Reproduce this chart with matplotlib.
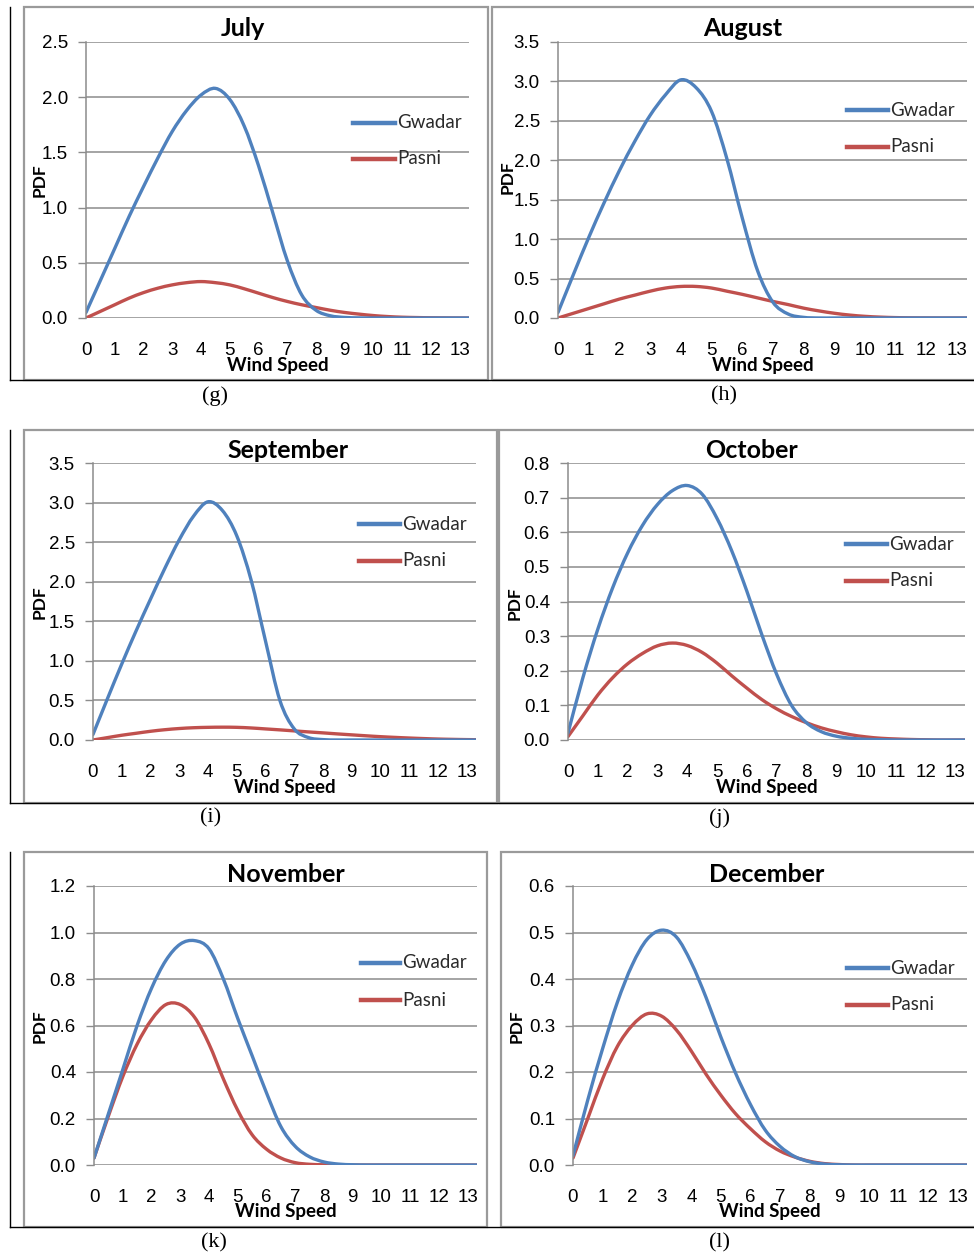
import matplotlib
matplotlib.use("Agg")
import matplotlib.pyplot as plt
import numpy as np
from matplotlib.lines import Line2D
from matplotlib.patches import Rectangle, PathPatch
from matplotlib.path import Path

# ---------------- data ----------------
wind_speed = [0, 0.5, 1, 1.5, 2, 2.5, 3, 3.5, 4, 4.5, 5, 5.5, 6, 6.5, 7, 7.5,
              8, 8.5, 9, 9.5, 10, 10.5, 11, 11.5, 12, 12.5, 13, 13.5]
x_ticks = list(range(0, 14))

july_gwadar = [0.05, 0.34, 0.63, 0.92, 1.19, 1.45, 1.69, 1.88, 2.02, 2.08, 1.98, 1.74, 1.38, 0.95,
               0.52, 0.21, 0.07, 0.02, 0.005, 0.001, 0, 0, 0, 0, 0, 0, 0, 0]
july_pasni = [0.0, 0.06, 0.12, 0.18, 0.23, 0.27, 0.30, 0.32, 0.33, 0.32, 0.30, 0.265, 0.225, 0.185,
              0.15, 0.12, 0.095, 0.07, 0.05, 0.035, 0.022, 0.013, 0.007, 0.004, 0.002, 0.001, 0, 0]

august_gwadar = [0.07, 0.55, 1.02, 1.46, 1.87, 2.24, 2.57, 2.83, 3.02, 2.92, 2.62, 2.02, 1.27, 0.60,
                 0.20, 0.05, 0.008, 0, 0, 0, 0, 0, 0, 0, 0, 0, 0, 0]
august_pasni = [0.0, 0.06, 0.12, 0.18, 0.24, 0.29, 0.34, 0.38, 0.40, 0.40, 0.38, 0.34, 0.30, 0.255,
                0.21, 0.17, 0.125, 0.09, 0.06, 0.037, 0.021, 0.011, 0.005, 0.002, 0.001, 0, 0, 0]

september_gwadar = [0.07, 0.52, 0.96, 1.38, 1.78, 2.17, 2.53, 2.83, 3.01, 2.90, 2.58, 2.02, 1.25, 0.50,
                    0.14, 0.03, 0.005, 0, 0, 0, 0, 0, 0, 0, 0, 0, 0, 0]
september_pasni = [0.0, 0.03, 0.06, 0.085, 0.11, 0.13, 0.145, 0.155, 0.16, 0.162, 0.16, 0.152, 0.14, 0.128,
                   0.115, 0.102, 0.09, 0.077, 0.065, 0.053, 0.042, 0.033, 0.025, 0.018, 0.012, 0.008, 0.005, 0.003]

october_gwadar = [0.02, 0.18, 0.32, 0.44, 0.54, 0.62, 0.68, 0.72, 0.735, 0.71, 0.64, 0.545, 0.43, 0.305,
                  0.19, 0.10, 0.05, 0.024, 0.011, 0.005, 0.002, 0.001, 0, 0, 0, 0, 0, 0]
october_pasni = [0.01, 0.07, 0.13, 0.18, 0.22, 0.25, 0.272, 0.28, 0.273, 0.253, 0.222, 0.185, 0.15, 0.117,
                 0.09, 0.068, 0.05, 0.035, 0.024, 0.015, 0.009, 0.005, 0.003, 0.0015, 0.0007, 0, 0, 0]

november_gwadar = [0.03, 0.22, 0.41, 0.60, 0.76, 0.88, 0.95, 0.965, 0.93, 0.80, 0.63, 0.47, 0.31, 0.165,
                   0.08, 0.035, 0.013, 0.004, 0.001, 0, 0, 0, 0, 0, 0, 0, 0, 0]
november_pasni = [0.03, 0.21, 0.38, 0.52, 0.625, 0.69, 0.69, 0.635, 0.52, 0.37, 0.235, 0.13, 0.068, 0.03,
                  0.01, 0.003, 0.001, 0, 0, 0, 0, 0, 0, 0, 0, 0, 0, 0]

december_gwadar = [0.02, 0.14, 0.25, 0.35, 0.43, 0.485, 0.505, 0.49, 0.435, 0.36, 0.275, 0.197, 0.13, 0.075,
                   0.04, 0.018, 0.007, 0.002, 0.0005, 0, 0, 0, 0, 0, 0, 0, 0, 0]
december_pasni = [0.015, 0.10, 0.185, 0.255, 0.30, 0.325, 0.32, 0.29, 0.245, 0.195, 0.15, 0.11, 0.078, 0.05,
                  0.03, 0.017, 0.008, 0.003, 0.001, 0, 0, 0, 0, 0, 0, 0, 0, 0]

months = ["July", "August", "September", "October", "November", "December"]
captions = ["(g)", "(h)", "(i)", "(j)", "(k)", "(l)"]
series_names = ["Gwadar", "Pasni"]
gwadar_all = [july_gwadar, august_gwadar, september_gwadar, october_gwadar, november_gwadar, december_gwadar]
pasni_all = [july_pasni, august_pasni, september_pasni, october_pasni, november_pasni, december_pasni]
y_max = [2.5, 3.5, 3.5, 0.8, 1.2, 0.6]
y_step = [0.5, 0.5, 0.5, 0.1, 0.2, 0.1]

# ---------------- layout (pixels) ----------------
W, H = 974, 1258
fig = plt.figure(figsize=(W / 100, H / 100), dpi=100)


def fx(px):
    return px / W


def fy(py):
    return 1 - py / H


def smooth_path(xs, ys):
    """Excel-like smoothed line through the data points (cubic Bezier segments)."""
    pts = np.column_stack([xs, ys]).astype(float)
    n = len(pts)
    verts = [pts[0]]
    codes = [Path.MOVETO]
    for k in range(n - 1):
        p0 = pts[max(k - 1, 0)]
        p1 = pts[k]
        p2 = pts[k + 1]
        p3 = pts[min(k + 2, n - 1)]
        c1 = p1 + (p2 - p0) / 6.0
        c2 = p2 - (p3 - p1) / 6.0
        verts += [c1, c2, p2]
        codes += [Path.CURVE4] * 3
    return Path(np.array(verts), codes)


BLUE = "#4F81BD"
RED = "#C0504D"
GRID = "#8C8C8C"

ax_px = [(86, 469, 42, 318), (558, 967, 42, 318),
         (93, 476, 463, 740), (568, 965, 463, 740),
         (94, 477, 886, 1165), (573, 967, 886, 1165)]
title_pos = [(243, 29), (743, 29), (288, 451), (752, 451), (286, 874), (767, 874)]
pdf_pos = [(40, 180), (508, 177), (40, 602), (515, 603), (40, 1026), (517, 1026)]
legend_pos = [(353, 395, 123, 159), (847, 888, 110, 147), (359, 400, 524, 561),
              (846, 887, 544, 581), (361, 400, 963, 1000), (847, 888, 968, 1005)]
caption_pos = [(215, 396), (724, 396), (211, 818), (720, 818), (214, 1243), (720, 1243)]
xlabel_y = [365, 365, 788, 788, 1212, 1212]
box_px = [(24, 488, 7, 380), (492, 980, 7, 380), (24, 497, 430, 803),
          (499, 980, 430, 803), (24, 487, 852, 1227), (501, 980, 852, 1227)]

for i in range(6):
    bl, br, bt, bb = box_px[i]
    fig.patches.append(Rectangle((fx(bl), fy(bb)), fx(br - bl), (bb - bt) / H,
                                 transform=fig.transFigure, fill=False,
                                 edgecolor="#9A9A9A", lw=1.6))

for top, bot in [(7, 380), (430, 803), (852, 1227)]:
    fig.add_artist(Line2D([fx(10), fx(10)], [fy(top), fy(bot)], color="black", lw=1.0))
    fig.add_artist(Line2D([fx(10), fx(974)], [fy(bot), fy(bot)], color="black", lw=1.0))

for i in range(6):
    l, r, t, b = ax_px[i]
    ax = fig.add_axes([fx(l), fy(b), (r - l) / W, (b - t) / H])
    for ys, col in [(pasni_all[i], RED), (gwadar_all[i], BLUE)]:
        ax.add_patch(PathPatch(smooth_path(wind_speed, ys), fill=False,
                               edgecolor=col, lw=2.4, capstyle="round", joinstyle="round"))
    ax.set_xlim(0, 13.32)
    ax.set_ylim(0, y_max[i])
    n = int(round(y_max[i] / y_step[i]))
    yt = [k * y_step[i] for k in range(n + 1)]
    ax.set_yticks(yt)
    ax.set_yticklabels([f"{v:.1f}" for v in yt], fontsize=13.5, family="Liberation Sans")
    ax.set_xticks(x_ticks)
    ax.set_xticklabels([str(v) for v in x_ticks], fontsize=13.5, family="Liberation Sans")
    ax.tick_params(axis="y", length=6, width=1, color=GRID, pad=7)
    ax.tick_params(axis="x", length=0, pad=17)
    ax.grid(axis="y", color=GRID, lw=1.1)
    ax.set_axisbelow(True)
    for s in ["top", "right", "bottom"]:
        ax.spines[s].set_visible(False)
    ax.spines["left"].set_color(GRID)
    ax.spines["left"].set_linewidth(1.1)
    ax.set_facecolor("none")

    tx, ty = title_pos[i]
    fig.text(fx(tx), fy(ty), months[i], ha="center", va="center",
             fontsize=18, fontweight="bold", family="Lato")
    px_, py_ = pdf_pos[i]
    fig.text(fx(px_), fy(py_), "PDF", ha="center", va="center", rotation=90,
             fontsize=12.5, fontweight="bold", family="Lato")
    fig.text(fx((l + r) / 2), fy(xlabel_y[i]), "Wind Speed", ha="center", va="center",
             fontsize=13.5, fontweight="bold", family="Lato")
    x0, x1, yg, yp = legend_pos[i]
    for yy, col, name in [(yg, BLUE, series_names[0]), (yp, RED, series_names[1])]:
        fig.add_artist(Line2D([fx(x0), fx(x1)], [fy(yy), fy(yy)], color=col, lw=3.2))
        fig.text(fx(x1 + 2), fy(yy), name, ha="left", va="center", fontsize=13.5,
                 family="Lato", color="#2A2A2A")
    cx, cy = caption_pos[i]
    fig.text(fx(cx), fy(cy), captions[i], ha="center", va="center", fontsize=16,
             family="Liberation Serif")

fig.savefig("out.png", dpi=100)
